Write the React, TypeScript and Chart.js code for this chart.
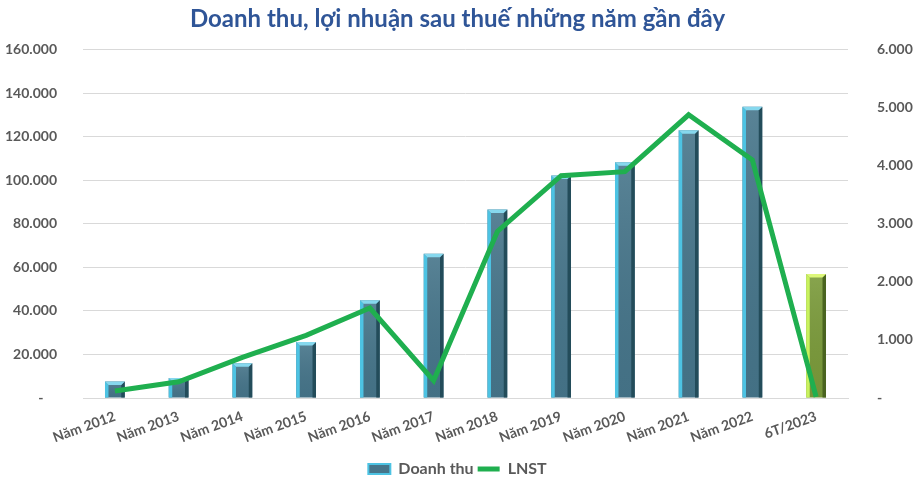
import React, { useEffect, useRef } from "react";
import { Chart, registerables } from "chart.js";

Chart.register(...registerables);

const categories = [
  "Năm 2012", "Năm 2013", "Năm 2014", "Năm 2015", "Năm 2016", "Năm 2017",
  "Năm 2018", "Năm 2019", "Năm 2020", "Năm 2021", "Năm 2022", "6T/2023",
];
const revenue = [7600, 9200, 16000, 25700, 44900, 66300, 86600, 102200, 108300, 123000, 133800, 57000];
const profit = [120, 280, 700, 1080, 1550, 300, 2870, 3830, 3900, 4880, 4100, 20];

const leftMax = 160000;
const leftStep = 20000;
const rightMax = 6000;
const rightStep = 1000;

const TITLE = "Doanh thu, lợi nhuận sau thuế những năm gần đây";
const FONT = "Lato, 'Open Sans', sans-serif";
const TICK_COLOR = "#595959";

const fmt = (v: number) => {
  if (v === 0) return "-";
  return Math.round(v).toString().replace(/\B(?=(\d{3})+(?!\d))/g, ".");
};

const blueStyle = { main: "#46758A", left: "#4DC3E3", top: "#86D8EE", right: "#234C5A" };
const greenStyle = { main: "#7A9A3A", left: "#C9F25E", top: "#DDF77A", right: "#4A6420" };

const bevelPlugin = {
  id: "bevel",
  afterDatasetDraw(chart: any, args: any) {
    if (args.index !== 0) return;
    const ctx = chart.ctx;
    const meta = args.meta;
    const n = meta.data.length;
    meta.data.forEach((el: any, i: number) => {
      const st = i === n - 1 ? greenStyle : blueStyle;
      const { x, y, base, width } = el.getProps(["x", "y", "base", "width"], true);
      const l = x - width / 2;
      const r = x + width / 2;
      const t = y;
      const b = base;
      const bv = 3.5;
      ctx.save();
      const g = ctx.createLinearGradient(0, t, 0, b);
      g.addColorStop(0, "rgba(255,255,255,0.10)");
      g.addColorStop(1, "rgba(0,0,0,0.04)");
      ctx.fillStyle = g;
      ctx.fillRect(l, t, width, b - t);
      ctx.fillStyle = st.left;
      ctx.beginPath();
      ctx.moveTo(l, t);
      ctx.lineTo(l + bv, t + bv);
      ctx.lineTo(l + bv, b);
      ctx.lineTo(l, b);
      ctx.closePath();
      ctx.fill();
      ctx.fillStyle = st.right;
      ctx.beginPath();
      ctx.moveTo(r, t);
      ctx.lineTo(r, b);
      ctx.lineTo(r - bv, b);
      ctx.lineTo(r - bv, t + bv);
      ctx.closePath();
      ctx.fill();
      ctx.fillStyle = st.top;
      ctx.beginPath();
      ctx.moveTo(l, t);
      ctx.lineTo(r, t);
      ctx.lineTo(r - bv, t + bv);
      ctx.lineTo(l + bv, t + bv);
      ctx.closePath();
      ctx.fill();
      ctx.restore();
    });
  },
};

export default function App() {
  const ref = useRef<HTMLCanvasElement | null>(null);

  useEffect(() => {
    document.body.style.margin = "0";
    const canvas = ref.current;
    if (!canvas) return;
    const chart = new Chart(canvas, {
      data: {
        labels: categories,
        datasets: [
          {
            type: "bar",
            label: "Doanh thu",
            data: revenue,
            yAxisID: "y",
            order: 2,
            backgroundColor: revenue.map((_, i) => (i === revenue.length - 1 ? greenStyle.main : blueStyle.main)),
            borderWidth: 0,
            barPercentage: 0.31,
            categoryPercentage: 1,
          },
          {
            type: "line",
            label: "LNST",
            data: profit,
            yAxisID: "y1",
            order: 1,
            borderColor: "#1FAF4F",
            backgroundColor: "#1FAF4F",
            borderWidth: 5,
            pointRadius: 0,
            tension: 0,
            borderJoinStyle: "miter",
          },
        ],
      } as any,
      options: {
        animation: false,
        responsive: false,
        maintainAspectRatio: false,
        layout: { padding: { top: 0, bottom: -7, left: 0, right: 0 } },
        plugins: {
          tooltip: { enabled: false },
          title: {
            display: true,
            text: TITLE,
            color: "#2F5597",
            font: { family: FONT, size: 24, weight: "bold" },
            padding: { top: 5, bottom: 16 },
          },
          legend: {
            position: "bottom",
            labels: {
              color: TICK_COLOR,
              font: { family: FONT, size: 16, weight: "bold" },
              usePointStyle: true,
              boxHeight: 10,
              pointStyleWidth: 22,
              padding: 4,
              generateLabels: () => [
                {
                  text: "Doanh thu",
                  fillStyle: blueStyle.main,
                  strokeStyle: blueStyle.left,
                  lineWidth: 2,
                  pointStyle: "rect",
                  hidden: false,
                  datasetIndex: 0,
                  fontColor: TICK_COLOR,
                },
                {
                  text: "LNST",
                  fillStyle: "#1FAF4F",
                  strokeStyle: "#1FAF4F",
                  lineWidth: 5,
                  pointStyle: "line",
                  hidden: false,
                  datasetIndex: 1,
                  fontColor: TICK_COLOR,
                },
              ],
            },
          },
        },
        scales: {
          x: {
            grid: { display: false },
            border: { display: true, color: "#D9D9D9" },
            ticks: {
              color: TICK_COLOR,
              font: { family: FONT, size: 14, weight: "bold" },
              minRotation: 20,
              maxRotation: 20,
              autoSkip: false,
              padding: 2,
            },
            afterFit: (s: any) => {
              s.height = 59;
            },
          },
          y: {
            position: "left",
            min: 0,
            max: leftMax,
            grid: { color: "#D9D9D9", lineWidth: 1, drawTicks: false },
            border: { display: false },
            ticks: {
              stepSize: leftStep,
              color: TICK_COLOR,
              font: { family: FONT, size: 14, weight: "bold" },
              padding: 26,
              callback: (v: any) => (Number(v) === 0 ? "-    " : fmt(Number(v))),
            },
            afterFit: (s: any) => {
              s.width = 83;
            },
          },
          y1: {
            position: "right",
            min: 0,
            max: rightMax,
            grid: { display: false, drawTicks: false },
            border: { display: false },
            ticks: {
              stepSize: rightStep,
              color: TICK_COLOR,
              font: { family: FONT, size: 14, weight: "bold" },
              padding: 29,
              callback: (v: any) => fmt(Number(v)),
            },
            afterFit: (s: any) => {
              s.width = 67;
            },
          },
        },
      } as any,
      plugins: [bevelPlugin],
    });
    return () => chart.destroy();
  }, []);

  return (
    <div style={{ width: 915, height: 480 }}>
      <canvas ref={ref} width={915} height={480} style={{ width: 915, height: 480, display: "block" }} />
    </div>
  );
}
